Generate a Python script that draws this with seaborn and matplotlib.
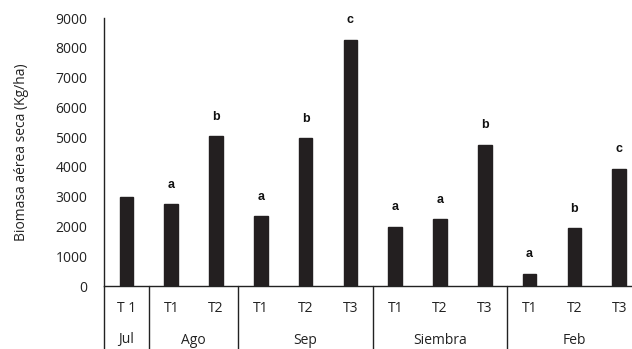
import matplotlib
matplotlib.use("Agg")
import matplotlib.pyplot as plt
import matplotlib.transforms as mtransforms
import seaborn as sns
import pandas as pd

# Dry aboveground biomass per sampling month and treatment
months = ["Jul", "Ago", "Ago", "Sep", "Sep", "Sep",
          "Siembra", "Siembra", "Siembra", "Feb", "Feb", "Feb"]
treatments = ["T 1", "T1", "T2", "T1", "T2", "T3",
              "T1", "T2", "T3", "T1", "T2", "T3"]
biomass = [3000, 2750, 5030, 2350, 4970, 8270,
           1990, 2250, 4750, 410, 1935, 3935]
letters = ["", "a", "b", "a", "b", "c", "a", "a", "b", "a", "b", "c"]
month_order = ["Jul", "Ago", "Sep", "Siembra", "Feb"]
y_ticks = [0, 1000, 2000, 3000, 4000, 5000, 6000, 7000, 8000, 9000]

df = pd.DataFrame({
    "key": [f"{m}-{t}" for m, t in zip(months, treatments)],
    "month": months,
    "treatment": treatments,
    "biomass": biomass,
})

sns.set_theme(style="white")
plt.rcParams["font.family"] = ["Open Sans", "DejaVu Sans"]

fig = plt.figure(figsize=(6.32, 3.49), dpi=100)
ax = fig.add_axes([104 / 632, 63 / 349, 537.6 / 632, 268 / 349])

sns.barplot(data=df, x="key", y="biomass", order=list(df["key"]),
            color="#231f20", saturation=1, width=0.30, ax=ax,
            edgecolor="#231f20", linewidth=1.0)

ax.set_ylim(0, 9000)
ax.set_xlim(-0.5, len(df) - 0.5)
ax.set_yticks(y_ticks)
ax.set_yticklabels([str(v) for v in y_ticks], fontsize=10, color="#222222")
ax.tick_params(axis="y", length=0, pad=12)
ax.set_xticks([])
ax.set_xlabel("")
ax.set_ylabel("Biomasa aérea seca (Kg/ha)", fontsize=10, color="#222222",
              labelpad=19)

for side in ["top", "right"]:
    ax.spines[side].set_visible(False)
for side in ["left", "bottom"]:
    ax.spines[side].set_color("#222222")
    ax.spines[side].set_linewidth(1.0)

# Significance letters above each bar
for i, (v, lab) in enumerate(zip(biomass, letters)):
    if lab:
        ax.annotate(lab, xy=(i, v), xytext=(0, 14), textcoords="offset points",
                    ha="center", va="center", fontsize=9, fontweight="bold",
                    family=["Liberation Sans", "DejaVu Sans"], color="#111111")

# Two-row category axis below the plot
trans = mtransforms.blended_transform_factory(ax.transData, ax.transAxes)
bottom = -63 / 268
for i, t in enumerate(treatments):
    ax.text(i, -23 / 268, t, transform=trans, ha="center", va="center",
            fontsize=10, color="#222222")

positions = list(range(len(months)))
bounds = [-0.5]
for m in month_order:
    idx = [p for p, mm in zip(positions, months) if mm == m]
    ax.text((idx[0] + idx[-1]) / 2, -54 / 268, m, transform=trans,
            ha="center", va="center", fontsize=10, color="#222222")
    bounds.append(idx[-1] + 0.5)

for b in bounds[:-1]:
    ax.plot([b, b], [0, bottom], transform=trans, color="#222222",
            linewidth=1.0, clip_on=False)

fig.savefig("out.png", dpi=100)
